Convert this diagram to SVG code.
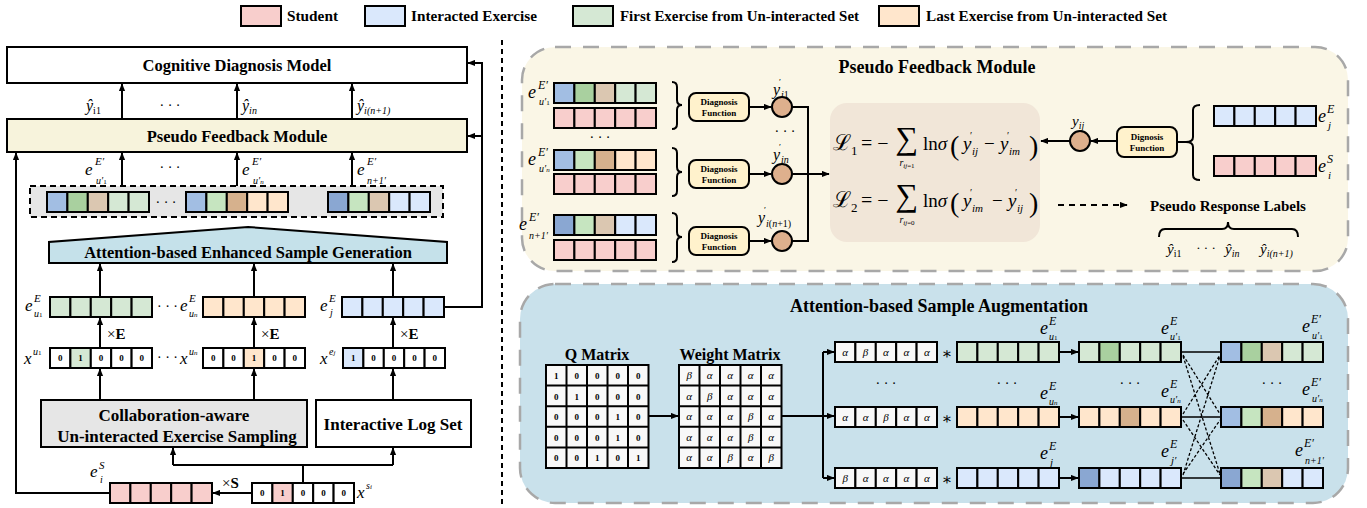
<svg xmlns="http://www.w3.org/2000/svg" width="1367" height="508" viewBox="0 0 1367 508">
<defs>
<marker id="ah" viewBox="0 0 10 8" refX="9" refY="4" markerWidth="8" markerHeight="7" markerUnits="userSpaceOnUse" orient="auto"><path d="M0,0 L10,4 L0,8 z" fill="#000"/></marker>
<style>
.t{font-family:"Liberation Serif","DejaVu Serif",serif;font-weight:bold;fill:#000}
.m{font-family:"Liberation Serif","DejaVu Serif",serif;font-style:italic;fill:#000}
.r{font-family:"Liberation Serif","DejaVu Serif",serif;fill:#000}
.ln{fill:none;stroke:#000;stroke-width:2}
.ar{fill:none;stroke:#000;stroke-width:2;marker-end:url(#ah)}
.cl{stroke:#000;stroke-width:2}
.bx{stroke:#000;stroke-width:2}
.lgn{fill:#d5e8d4}.g{fill:#a9d09f}.tn{fill:#dbc7b1}.tn2{fill:#d6b18d}.bl{fill:#a2bee3}.bl2{fill:#8aa7d2}
.lg2{fill:#c6e5c0}.pk{fill:#f8cecc}.pc{fill:#ffe6cc}.lb{fill:#dae8fc}.wh{fill:#f8f8f8}.w{fill:#fff}
.oh{font-family:"Liberation Serif",serif;font-weight:bold;font-size:9px;text-anchor:middle;fill:#000}
.gr{font-family:"Liberation Serif",serif;font-style:italic;font-size:11px;text-anchor:middle;fill:#000}
.df{font-family:"Liberation Serif",serif;font-weight:bold;font-size:9px;text-anchor:middle;fill:#000}
</style>
</defs>
<rect width="1367" height="508" fill="#fff"/>

<!-- Legend -->
<g id="legend">
<rect x="241" y="6" width="40" height="20" class="bx pk"/>
<text x="287" y="21" class="t" font-size="14" textLength="51" lengthAdjust="spacingAndGlyphs">Student</text>
<rect x="365" y="6" width="40" height="20" class="bx lb"/>
<text x="411" y="21" class="t" font-size="14" textLength="126" lengthAdjust="spacingAndGlyphs">Interacted Exercise</text>
<rect x="573" y="6" width="40" height="20" class="bx lgn"/>
<text x="620" y="21" class="t" font-size="14" textLength="239" lengthAdjust="spacingAndGlyphs">First Exercise from Un-interacted Set</text>
<rect x="879" y="6" width="40" height="20" class="bx pc"/>
<text x="926" y="21" class="t" font-size="14" textLength="241" lengthAdjust="spacingAndGlyphs">Last Exercise from Un-interacted Set</text>
</g>

<!-- separator -->
<line x1="502" y1="40" x2="502" y2="508" stroke="#000" stroke-width="2" stroke-dasharray="5 4"/>

<!-- ================= LEFT PANEL ================= -->
<g id="cdm">
<rect x="7" y="47" width="460" height="36" class="bx w"/>
<text x="237" y="71" class="t" font-size="16.5" text-anchor="middle">Cognitive Diagnosis Model</text>
</g>
<g id="pfm-left">
<rect x="7" y="119" width="460" height="33" fill="#f7f3dc" class="bx"/>
<text x="237" y="142" class="t" font-size="16.5" text-anchor="middle">Pseudo Feedback Module</text>
</g>

<g id="pred-labels">
<text x="86" y="111" class="m" font-size="16">ŷ<tspan font-size="10" dy="3" font-style="normal">i1</tspan></text>
<text x="170" y="110" class="r" font-size="14" text-anchor="middle">· · ·</text>
<text x="242" y="111" class="m" font-size="16">ŷ<tspan font-size="10" dy="3">in</tspan></text>
<text x="357" y="111" class="m" font-size="16">ŷ<tspan font-size="10" dy="3">i(n+1)</tspan></text>
</g>

<g id="aug-labels">
<text x="85" y="175" class="m" font-size="17">e</text><text x="95" y="165" class="m" font-size="11">E′</text><text x="96" y="184" class="m" font-size="10">u′<tspan font-size="7" font-style="normal">1</tspan></text>
<text x="170" y="172" class="r" font-size="14" text-anchor="middle">· · ·</text>
<text x="242" y="175" class="m" font-size="17">e</text><text x="252" y="165" class="m" font-size="11">E′</text><text x="253" y="184" class="m" font-size="10">u′<tspan font-size="7">n</tspan></text>
<text x="357" y="175" class="m" font-size="17">e</text><text x="367" y="165" class="m" font-size="11">E′</text><text x="367" y="184" class="m" font-size="10">n+1′</text>
</g>

<g id="aug-box">
<rect x="30" y="186" width="413" height="31" fill="#e6e6e6" stroke="#000" stroke-width="2" stroke-dasharray="6 4"/>
<g transform="translate(47,192)"><rect class="cl bl" width="20.4" height="20"/><rect class="cl g" x="20.4" width="20.4" height="20"/><rect class="cl tn" x="40.8" width="20.4" height="20"/><rect class="cl lgn" x="61.2" width="20.4" height="20"/><rect class="cl lgn" x="81.6" width="20.4" height="20"/></g>
<text x="166" y="207" class="r" font-size="14" text-anchor="middle">· · ·</text>
<g transform="translate(186,192)"><rect class="cl bl" width="20.4" height="20"/><rect class="cl lg2" x="20.4" width="20.4" height="20"/><rect class="cl tn2" x="40.8" width="20.4" height="20"/><rect class="cl pc" x="61.2" width="20.4" height="20"/><rect class="cl pc" x="81.6" width="20.4" height="20"/></g>
<g transform="translate(328,192)"><rect class="cl bl2" width="20.4" height="20"/><rect class="cl lg2" x="20.4" width="20.4" height="20"/><rect class="cl tn" x="40.8" width="20.4" height="20"/><rect class="cl lb" x="61.2" width="20.4" height="20"/><rect class="cl lb" x="81.6" width="20.4" height="20"/></g>
</g>

<g id="aesg">
<polygon points="49,263 49,242 248,227 447,242 447,263" fill="#c5e1ea" class="bx"/>
<text x="248" y="258" class="t" font-size="16.5" text-anchor="middle">Attention-based Enhanced Sample Generation</text>
</g>

<g id="emb-row">
<text x="25" y="311" class="m" font-size="17">e</text><text x="34" y="302" class="m" font-size="11">E</text><text x="34" y="317" class="m" font-size="10">u<tspan font-size="7" font-style="normal">1</tspan></text>
<g transform="translate(50,297)"><rect class="cl lgn" width="20.4" height="20"/><rect class="cl lgn" x="20.4" width="20.4" height="20"/><rect class="cl lgn" x="40.8" width="20.4" height="20"/><rect class="cl lgn" x="61.2" width="20.4" height="20"/><rect class="cl lgn" x="81.6" width="20.4" height="20"/></g>
<text x="157" y="311" class="r" font-size="14">· · ·</text>
<text x="180" y="311" class="m" font-size="17">e</text><text x="189" y="302" class="m" font-size="11">E</text><text x="189" y="317" class="m" font-size="10">u<tspan font-size="7">n</tspan></text>
<g transform="translate(203,297)"><rect class="cl pc" width="20.4" height="20"/><rect class="cl pc" x="20.4" width="20.4" height="20"/><rect class="cl pc" x="40.8" width="20.4" height="20"/><rect class="cl pc" x="61.2" width="20.4" height="20"/><rect class="cl pc" x="81.6" width="20.4" height="20"/></g>
<text x="320" y="311" class="m" font-size="17">e</text><text x="329" y="302" class="m" font-size="11">E</text><text x="330" y="316" class="m" font-size="10">j</text>
<g transform="translate(342,297)"><rect class="cl lb" width="20.4" height="20"/><rect class="cl lb" x="20.4" width="20.4" height="20"/><rect class="cl lb" x="40.8" width="20.4" height="20"/><rect class="cl lb" x="61.2" width="20.4" height="20"/><rect class="cl lb" x="81.6" width="20.4" height="20"/></g>
</g>

<g id="times-e">
<text x="107" y="339" class="r" font-size="15">×<tspan font-weight="bold">E</tspan></text>
<text x="261" y="339" class="r" font-size="15">×<tspan font-weight="bold">E</tspan></text>
<text x="400" y="339" class="r" font-size="15">×<tspan font-weight="bold">E</tspan></text>
</g>

<g id="onehot-row">
<text x="24" y="364" class="m" font-size="17">x</text><text x="33" y="355" class="m" font-size="10">u<tspan font-size="7" font-style="normal">1</tspan></text>
<g transform="translate(50,348)"><rect class="cl w" width="20.4" height="20"/><rect class="cl lgn" x="20.4" width="20.4" height="20"/><rect class="cl w" x="40.8" width="20.4" height="20"/><rect class="cl w" x="61.2" width="20.4" height="20"/><rect class="cl w" x="81.6" width="20.4" height="20"/></g>
<text x="60.2" y="361" class="oh">0</text><text x="80.6" y="361" class="oh">1</text><text x="101" y="361" class="oh">0</text><text x="121.4" y="361" class="oh">0</text><text x="141.8" y="361" class="oh">0</text>
<text x="157" y="362" class="r" font-size="14">· · ·</text>
<text x="180" y="364" class="m" font-size="17">x</text><text x="189" y="355" class="m" font-size="10">u<tspan font-size="7">n</tspan></text>
<g transform="translate(203,348)"><rect class="cl w" width="20.4" height="20"/><rect class="cl w" x="20.4" width="20.4" height="20"/><rect class="cl pc" x="40.8" width="20.4" height="20"/><rect class="cl w" x="61.2" width="20.4" height="20"/><rect class="cl w" x="81.6" width="20.4" height="20"/></g>
<text x="213.2" y="361" class="oh">0</text><text x="233.6" y="361" class="oh">0</text><text x="254" y="361" class="oh">1</text><text x="274.4" y="361" class="oh">0</text><text x="294.8" y="361" class="oh">0</text>
<text x="320" y="364" class="m" font-size="17">x</text><text x="329" y="355" class="m" font-size="10">e<tspan font-size="7">j</tspan></text>
<g transform="translate(343,348)"><rect class="cl lb" width="20.4" height="20"/><rect class="cl w" x="20.4" width="20.4" height="20"/><rect class="cl w" x="40.8" width="20.4" height="20"/><rect class="cl w" x="61.2" width="20.4" height="20"/><rect class="cl w" x="81.6" width="20.4" height="20"/></g>
<text x="353.2" y="361" class="oh">1</text><text x="373.6" y="361" class="oh">0</text><text x="394" y="361" class="oh">0</text><text x="414.4" y="361" class="oh">0</text><text x="434.8" y="361" class="oh">0</text>
</g>

<g id="collab">
<rect x="41" y="400" width="266" height="47" fill="#e6e6e6" class="bx"/>
<text x="174" y="421" class="t" font-size="17" text-anchor="middle">Collaboration-aware</text>
<text x="177" y="442" class="t" font-size="17" text-anchor="middle">Un-interacted Exercise Sampling</text>
</g>
<g id="logset">
<rect x="316" y="400" width="155" height="47" class="bx w"/>
<text x="393" y="430" class="t" font-size="17" text-anchor="middle">Interactive Log Set</text>
</g>

<g id="student">
<text x="90" y="477" class="m" font-size="17">e</text><text x="99" y="469" class="m" font-size="11">S</text><text x="100" y="483" class="m" font-size="10">i</text>
<g transform="translate(110,483)"><rect class="cl pk" width="20.4" height="20"/><rect class="cl pk" x="20.4" width="20.4" height="20"/><rect class="cl pk" x="40.8" width="20.4" height="20"/><rect class="cl pk" x="61.2" width="20.4" height="20"/><rect class="cl pk" x="81.6" width="20.4" height="20"/></g>
<text x="222" y="488" class="r" font-size="15">×<tspan font-weight="bold">S</tspan></text>
<g transform="translate(252,483)"><rect class="cl w" width="20.4" height="20"/><rect class="cl pk" x="20.4" width="20.4" height="20"/><rect class="cl w" x="40.8" width="20.4" height="20"/><rect class="cl w" x="61.2" width="20.4" height="20"/><rect class="cl w" x="81.6" width="20.4" height="20"/></g>
<text x="262.2" y="496" class="oh">0</text><text x="282.6" y="496" class="oh">1</text><text x="303" y="496" class="oh">0</text><text x="323.4" y="496" class="oh">0</text><text x="343.8" y="496" class="oh">0</text>
<text x="357" y="498" class="m" font-size="17">x</text><text x="366" y="489" class="m" font-size="10">s<tspan font-size="7">i</tspan></text>
</g>

<!-- ================= TOP RIGHT PANEL ================= -->
<g id="pfm-panel">
<rect x="522" y="47" width="826" height="224" rx="33" fill="#faf6e6" stroke="#a8a8a8" stroke-width="2.5" stroke-dasharray="16 12"/>
<text x="937" y="73" class="t" font-size="18" text-anchor="middle">Pseudo Feedback Module</text>
</g>

<g id="pfm-row1">
<text x="528" y="98" class="m" font-size="18">e</text><text x="538" y="89" class="m" font-size="12">E′</text><text x="539" y="105" class="m" font-size="10">u′<tspan font-size="7" font-style="normal">1</tspan></text>
<g transform="translate(554,83)"><rect class="cl bl" width="20.4" height="20"/><rect class="cl g" x="20.4" width="20.4" height="20"/><rect class="cl tn" x="40.8" width="20.4" height="20"/><rect class="cl lgn" x="61.2" width="20.4" height="20"/><rect class="cl lgn" x="81.6" width="20.4" height="20"/></g>
<g transform="translate(554,108)"><rect class="cl pk" width="20.4" height="20"/><rect class="cl pk" x="20.4" width="20.4" height="20"/><rect class="cl pk" x="40.8" width="20.4" height="20"/><rect class="cl pk" x="61.2" width="20.4" height="20"/><rect class="cl pk" x="81.6" width="20.4" height="20"/></g>
<path class="ln" d="M672,82 Q677,82 677,87 V100 Q677,105 682,105 Q677,105 677,110 V124 Q677,129 672,129"/>
<rect x="689" y="93" width="60" height="28" rx="7" fill="#fff2cc" class="bx"/>
<text x="719" y="105" class="df">Diagnosis</text><text x="719" y="116" class="df">Function</text>
<circle cx="782" cy="107" r="10" fill="#deb08d" class="bx"/>
<text x="773" y="95" class="m" font-size="16">y</text><text x="779" y="85" class="r" font-size="9">′</text><text x="781" y="98" class="m" font-size="10">i<tspan font-style="normal">1</tspan></text>
</g>
<text x="600" y="142" class="r" font-size="14" text-anchor="middle">· · ·</text>
<text x="785" y="136" class="r" font-size="14" text-anchor="middle">· · ·</text>

<g id="pfm-row2">
<text x="528" y="165" class="m" font-size="18">e</text><text x="538" y="156" class="m" font-size="12">E′</text><text x="539" y="172" class="m" font-size="10">u′<tspan font-size="7">n</tspan></text>
<g transform="translate(554,150)"><rect class="cl bl" width="20.4" height="20"/><rect class="cl lg2" x="20.4" width="20.4" height="20"/><rect class="cl tn2" x="40.8" width="20.4" height="20"/><rect class="cl pc" x="61.2" width="20.4" height="20"/><rect class="cl pc" x="81.6" width="20.4" height="20"/></g>
<g transform="translate(554,174)"><rect class="cl pk" width="20.4" height="20"/><rect class="cl pk" x="20.4" width="20.4" height="20"/><rect class="cl pk" x="40.8" width="20.4" height="20"/><rect class="cl pk" x="61.2" width="20.4" height="20"/><rect class="cl pk" x="81.6" width="20.4" height="20"/></g>
<path class="ln" d="M672,148 Q677,148 677,153 V167 Q677,172 682,172 Q677,172 677,177 V191 Q677,196 672,196"/>
<rect x="689" y="160" width="60" height="28" rx="7" fill="#fff2cc" class="bx"/>
<text x="719" y="172" class="df">Diagnosis</text><text x="719" y="183" class="df">Function</text>
<circle cx="782" cy="174" r="10" fill="#deb08d" class="bx"/>
<text x="773" y="160" class="m" font-size="16">y</text><text x="779" y="150" class="r" font-size="9">′</text><text x="781" y="163" class="m" font-size="10">in</text>
</g>

<g id="pfm-row3">
<text x="519" y="230" class="m" font-size="18">e</text><text x="529" y="221" class="m" font-size="12">E′</text><text x="529" y="239" class="m" font-size="10">n+1′</text>
<g transform="translate(554,215)"><rect class="cl bl2" width="20.4" height="20"/><rect class="cl lg2" x="20.4" width="20.4" height="20"/><rect class="cl tn" x="40.8" width="20.4" height="20"/><rect class="cl lb" x="61.2" width="20.4" height="20"/><rect class="cl lb" x="81.6" width="20.4" height="20"/></g>
<g transform="translate(554,240)"><rect class="cl pk" width="20.4" height="20"/><rect class="cl pk" x="20.4" width="20.4" height="20"/><rect class="cl pk" x="40.8" width="20.4" height="20"/><rect class="cl pk" x="61.2" width="20.4" height="20"/><rect class="cl pk" x="81.6" width="20.4" height="20"/></g>
<path class="ln" d="M672,213 Q677,213 677,218 V232 Q677,237 682,237 Q677,237 677,242 V257 Q677,262 672,262"/>
<rect x="689" y="227" width="60" height="28" rx="7" fill="#fff2cc" class="bx"/>
<text x="719" y="239" class="df">Diagnosis</text><text x="719" y="250" class="df">Function</text>
<circle cx="782" cy="241" r="10" fill="#deb08d" class="bx"/>
<text x="758" y="223" class="m" font-size="16">y</text><text x="764" y="213" class="r" font-size="9">′</text><text x="766" y="227" class="m" font-size="10">i<tspan font-style="normal">(</tspan>n<tspan font-style="normal">+1)</tspan></text>
</g>

<g id="loss">
<rect x="830" y="103" width="210" height="139" rx="17" fill="#f1e6d8"/>
<text x="833" y="150" class="r" font-size="22">ℒ</text><text x="851" y="155" class="r" font-size="13">1</text>
<text x="861" y="150" class="r" font-size="20">= −</text>
<text x="907" y="149" class="r" font-size="32" text-anchor="middle">∑</text>
<text x="907" y="166" class="m" font-size="10" text-anchor="middle">r<tspan font-size="7" dy="2">ij<tspan font-style="normal">=1</tspan></tspan></text>
<text x="923" y="150" class="r" font-size="19">ln<tspan font-style="italic">σ</tspan></text>
<text x="950" y="155" class="r" font-size="28">(</text>
<text x="963" y="150" class="m" font-size="19">y</text><text x="970" y="139" class="r" font-size="10">′</text><text x="972" y="155" class="m" font-size="11">ij</text>
<text x="984" y="150" class="r" font-size="19">−</text>
<text x="1000" y="150" class="m" font-size="19">y</text><text x="1007" y="139" class="r" font-size="10">′</text><text x="1009" y="155" class="m" font-size="11">im</text>
<text x="1029" y="155" class="r" font-size="28">)</text>

<text x="833" y="207" class="r" font-size="22">ℒ</text><text x="851" y="212" class="r" font-size="13">2</text>
<text x="861" y="207" class="r" font-size="20">= −</text>
<text x="907" y="206" class="r" font-size="32" text-anchor="middle">∑</text>
<text x="907" y="223" class="m" font-size="10" text-anchor="middle">r<tspan font-size="7" dy="2">ij<tspan font-style="normal">=0</tspan></tspan></text>
<text x="923" y="207" class="r" font-size="19">ln<tspan font-style="italic">σ</tspan></text>
<text x="950" y="212" class="r" font-size="28">(</text>
<text x="963" y="207" class="m" font-size="19">y</text><text x="970" y="196" class="r" font-size="10">′</text><text x="972" y="212" class="m" font-size="11">im</text>
<text x="992" y="207" class="r" font-size="19">−</text>
<text x="1008" y="207" class="m" font-size="19">y</text><text x="1015" y="196" class="r" font-size="10">′</text><text x="1017" y="212" class="m" font-size="11">ij</text>
<text x="1029" y="212" class="r" font-size="28">)</text>
</g>

<g id="true-label">
<circle cx="1080" cy="141" r="10" fill="#deb08d" class="bx"/>
<text x="1072" y="126" class="m" font-size="15">y<tspan font-size="10" dy="3">ij</tspan></text>
<rect x="1117" y="127" width="60" height="30" rx="7" fill="#fff2cc" class="bx"/>
<text x="1147" y="140" class="df">Dignosis</text><text x="1147" y="151" class="df">Function</text>
<path class="ln" d="M1200,105 Q1193,105 1193,110 V137 Q1193,142 1186,142 Q1193,142 1193,147 V175 Q1193,180 1200,180"/>
<g transform="translate(1214,106)"><rect class="cl lb" width="20.4" height="20"/><rect class="cl lb" x="20.4" width="20.4" height="20"/><rect class="cl lb" x="40.8" width="20.4" height="20"/><rect class="cl lb" x="61.2" width="20.4" height="20"/><rect class="cl lb" x="81.6" width="20.4" height="20"/></g>
<text x="1318" y="122" class="m" font-size="18">e</text><text x="1327" y="113" class="m" font-size="12">E</text><text x="1328" y="129" class="m" font-size="11">j</text>
<g transform="translate(1214,156)"><rect class="cl pk" width="20.4" height="20"/><rect class="cl pk" x="20.4" width="20.4" height="20"/><rect class="cl pk" x="40.8" width="20.4" height="20"/><rect class="cl pk" x="61.2" width="20.4" height="20"/><rect class="cl pk" x="81.6" width="20.4" height="20"/></g>
<text x="1318" y="172" class="m" font-size="18">e</text><text x="1327" y="163" class="m" font-size="12">S</text><text x="1328" y="179" class="m" font-size="11">i</text>
</g>

<g id="pseudo-labels">
<text x="1228" y="211" class="t" font-size="15" text-anchor="middle">Pseudo Response Labels</text>
<path class="ln" stroke-width="1.8" d="M1159,237 Q1159,229 1165,229 H1222 Q1228,229 1228,222 Q1228,229 1234,229 H1292 Q1298,229 1298,237"/>
<text x="1167" y="254" class="m" font-size="15">ŷ<tspan font-size="10" dy="3" font-style="normal">i1</tspan></text>
<text x="1206" y="252" class="r" font-size="13" text-anchor="middle">· · ·</text>
<text x="1225" y="254" class="m" font-size="15">ŷ<tspan font-size="10" dy="3">in</tspan></text>
<text x="1260" y="254" class="m" font-size="15">ŷ<tspan font-size="10" dy="3">i(n+1)</tspan></text>
</g>

<!-- ================= BOTTOM RIGHT PANEL ================= -->
<g id="asa-panel">
<rect x="520" y="284" width="828" height="219" rx="35" fill="#c9e1eb" stroke="#a8a8a8" stroke-width="2.5" stroke-dasharray="16 12"/>
<text x="939" y="312" class="t" font-size="18" text-anchor="middle">Attention-based Sample Augmentation</text>
</g>

<g id="q-matrix">
<text x="597" y="360" class="t" font-size="16" text-anchor="middle">Q Matrix</text>
<g fill="#f8f8f8" stroke="#000" stroke-width="2">
<rect x="546" y="365" width="102.5" height="103"/>
<path d="M566.5,365 V468 M587,365 V468 M607.5,365 V468 M628,365 V468 M546,385.6 H648.5 M546,406.2 H648.5 M546,426.8 H648.5 M546,447.4 H648.5" fill="none"/>
</g>
<g class="oh">
<text x="556.25" y="379">1</text><text x="576.75" y="379">0</text><text x="597.25" y="379">0</text><text x="617.75" y="379">0</text><text x="638.25" y="379">0</text>
<text x="556.25" y="399.6">0</text><text x="576.75" y="399.6">1</text><text x="597.25" y="399.6">0</text><text x="617.75" y="399.6">0</text><text x="638.25" y="399.6">0</text>
<text x="556.25" y="420.2">0</text><text x="576.75" y="420.2">0</text><text x="597.25" y="420.2">0</text><text x="617.75" y="420.2">1</text><text x="638.25" y="420.2">0</text>
<text x="556.25" y="440.8">0</text><text x="576.75" y="440.8">0</text><text x="597.25" y="440.8">0</text><text x="617.75" y="440.8">1</text><text x="638.25" y="440.8">0</text>
<text x="556.25" y="461.4">0</text><text x="576.75" y="461.4">0</text><text x="597.25" y="461.4">1</text><text x="617.75" y="461.4">0</text><text x="638.25" y="461.4">1</text>
</g>
</g>

<g id="w-matrix">
<text x="730" y="360" class="t" font-size="16" text-anchor="middle">Weight Matrix</text>
<g fill="#f8f8f8" stroke="#000" stroke-width="2">
<rect x="679" y="365" width="102.5" height="103"/>
<path d="M699.5,365 V468 M720,365 V468 M740.5,365 V468 M761,365 V468 M679,385.6 H781.5 M679,406.2 H781.5 M679,426.8 H781.5 M679,447.4 H781.5" fill="none"/>
</g>
<g class="gr">
<text x="689.25" y="379">β</text><text x="709.75" y="379">α</text><text x="730.25" y="379">α</text><text x="750.75" y="379">α</text><text x="771.25" y="379">α</text>
<text x="689.25" y="399.6">α</text><text x="709.75" y="399.6">β</text><text x="730.25" y="399.6">α</text><text x="750.75" y="399.6">α</text><text x="771.25" y="399.6">α</text>
<text x="689.25" y="420.2">α</text><text x="709.75" y="420.2">α</text><text x="730.25" y="420.2">α</text><text x="750.75" y="420.2">β</text><text x="771.25" y="420.2">α</text>
<text x="689.25" y="440.8">α</text><text x="709.75" y="440.8">α</text><text x="730.25" y="440.8">α</text><text x="750.75" y="440.8">β</text><text x="771.25" y="440.8">α</text>
<text x="689.25" y="461.4">α</text><text x="709.75" y="461.4">α</text><text x="730.25" y="461.4">β</text><text x="750.75" y="461.4">α</text><text x="771.25" y="461.4">β</text>
</g>
</g>

<g id="weights">
<g transform="translate(835,342)"><rect class="cl wh" width="20.4" height="20"/><rect class="cl wh" x="20.4" width="20.4" height="20"/><rect class="cl wh" x="40.8" width="20.4" height="20"/><rect class="cl wh" x="61.2" width="20.4" height="20"/><rect class="cl wh" x="81.6" width="20.4" height="20"/></g>
<g transform="translate(835,407)"><rect class="cl wh" width="20.4" height="20"/><rect class="cl wh" x="20.4" width="20.4" height="20"/><rect class="cl wh" x="40.8" width="20.4" height="20"/><rect class="cl wh" x="61.2" width="20.4" height="20"/><rect class="cl wh" x="81.6" width="20.4" height="20"/></g>
<g transform="translate(835,468)"><rect class="cl wh" width="20.4" height="20"/><rect class="cl wh" x="20.4" width="20.4" height="20"/><rect class="cl wh" x="40.8" width="20.4" height="20"/><rect class="cl wh" x="61.2" width="20.4" height="20"/><rect class="cl wh" x="81.6" width="20.4" height="20"/></g>
<g class="gr">
<text x="845.2" y="356">α</text><text x="865.6" y="356">β</text><text x="886" y="356">α</text><text x="906.4" y="356">α</text><text x="926.8" y="356">α</text>
<text x="845.2" y="421">α</text><text x="865.6" y="421">α</text><text x="886" y="421">β</text><text x="906.4" y="421">α</text><text x="926.8" y="421">α</text>
<text x="845.2" y="482">β</text><text x="865.6" y="482">α</text><text x="886" y="482">α</text><text x="906.4" y="482">α</text><text x="926.8" y="482">α</text>
</g>
<text x="886" y="388" class="r" font-size="14" text-anchor="middle">· · ·</text>
<text x="947" y="359" class="r" font-size="16" text-anchor="middle">∗</text>
<text x="947" y="424" class="r" font-size="16" text-anchor="middle">∗</text>
<text x="947" y="485" class="r" font-size="16" text-anchor="middle">∗</text>
</g>

<g id="emb-vectors">
<g transform="translate(957,342)"><rect class="cl lgn" width="20.4" height="20"/><rect class="cl lgn" x="20.4" width="20.4" height="20"/><rect class="cl lgn" x="40.8" width="20.4" height="20"/><rect class="cl lgn" x="61.2" width="20.4" height="20"/><rect class="cl lgn" x="81.6" width="20.4" height="20"/></g>
<g transform="translate(957,407)"><rect class="cl pc" width="20.4" height="20"/><rect class="cl pc" x="20.4" width="20.4" height="20"/><rect class="cl pc" x="40.8" width="20.4" height="20"/><rect class="cl pc" x="61.2" width="20.4" height="20"/><rect class="cl pc" x="81.6" width="20.4" height="20"/></g>
<g transform="translate(957,468)"><rect class="cl lb" width="20.4" height="20"/><rect class="cl lb" x="20.4" width="20.4" height="20"/><rect class="cl lb" x="40.8" width="20.4" height="20"/><rect class="cl lb" x="61.2" width="20.4" height="20"/><rect class="cl lb" x="81.6" width="20.4" height="20"/></g>
<text x="1007" y="388" class="r" font-size="14" text-anchor="middle">· · ·</text>
<text x="1040" y="334" class="m" font-size="18">e</text><text x="1049" y="325" class="m" font-size="12">E</text><text x="1049" y="340" class="m" font-size="10">u<tspan font-size="7" font-style="normal">1</tspan></text>
<text x="1040" y="399" class="m" font-size="18">e</text><text x="1049" y="390" class="m" font-size="12">E</text><text x="1049" y="405" class="m" font-size="10">u<tspan font-size="7">n</tspan></text>
<text x="1040" y="459" class="m" font-size="18">e</text><text x="1049" y="450" class="m" font-size="12">E</text><text x="1050" y="466" class="m" font-size="11">j</text>
</g>

<g id="weighted-vectors">
<g transform="translate(1079,342)"><rect class="cl lgn" width="20.4" height="20"/><rect class="cl g" x="20.4" width="20.4" height="20"/><rect class="cl lgn" x="40.8" width="20.4" height="20"/><rect class="cl lgn" x="61.2" width="20.4" height="20"/><rect class="cl lgn" x="81.6" width="20.4" height="20"/></g>
<g transform="translate(1079,407)"><rect class="cl pc" width="20.4" height="20"/><rect class="cl pc" x="20.4" width="20.4" height="20"/><rect class="cl tn2" x="40.8" width="20.4" height="20"/><rect class="cl pc" x="61.2" width="20.4" height="20"/><rect class="cl pc" x="81.6" width="20.4" height="20"/></g>
<g transform="translate(1079,468)"><rect class="cl bl2" width="20.4" height="20"/><rect class="cl lb" x="20.4" width="20.4" height="20"/><rect class="cl lb" x="40.8" width="20.4" height="20"/><rect class="cl lb" x="61.2" width="20.4" height="20"/><rect class="cl lb" x="81.6" width="20.4" height="20"/></g>
<text x="1130" y="388" class="r" font-size="14" text-anchor="middle">· · ·</text>
<text x="1161" y="334" class="m" font-size="18">e</text><text x="1170" y="325" class="m" font-size="12">E</text><text x="1170" y="340" class="m" font-size="10">u′<tspan font-size="7" font-style="normal">1</tspan></text>
<text x="1161" y="397" class="m" font-size="18">e</text><text x="1170" y="388" class="m" font-size="12">E</text><text x="1170" y="403" class="m" font-size="10">u′<tspan font-size="7">n</tspan></text>
<text x="1161" y="457" class="m" font-size="18">e</text><text x="1170" y="448" class="m" font-size="12">E</text><text x="1171" y="464" class="m" font-size="11">j′</text>
</g>

<g id="final-vectors">
<g transform="translate(1221,342)"><rect class="cl bl" width="20.4" height="20"/><rect class="cl g" x="20.4" width="20.4" height="20"/><rect class="cl tn" x="40.8" width="20.4" height="20"/><rect class="cl lgn" x="61.2" width="20.4" height="20"/><rect class="cl lgn" x="81.6" width="20.4" height="20"/></g>
<g transform="translate(1221,407)"><rect class="cl bl" width="20.4" height="20"/><rect class="cl lg2" x="20.4" width="20.4" height="20"/><rect class="cl tn2" x="40.8" width="20.4" height="20"/><rect class="cl pc" x="61.2" width="20.4" height="20"/><rect class="cl pc" x="81.6" width="20.4" height="20"/></g>
<g transform="translate(1221,468)"><rect class="cl bl2" width="20.4" height="20"/><rect class="cl lg2" x="20.4" width="20.4" height="20"/><rect class="cl tn" x="40.8" width="20.4" height="20"/><rect class="cl lb" x="61.2" width="20.4" height="20"/><rect class="cl lb" x="81.6" width="20.4" height="20"/></g>
<text x="1272" y="388" class="r" font-size="14" text-anchor="middle">· · ·</text>
<text x="1302" y="332" class="m" font-size="18">e</text><text x="1311" y="323" class="m" font-size="12">E′</text><text x="1312" y="339" class="m" font-size="10">u′<tspan font-size="7" font-style="normal">1</tspan></text>
<text x="1302" y="395" class="m" font-size="18">e</text><text x="1311" y="386" class="m" font-size="12">E′</text><text x="1312" y="402" class="m" font-size="10">u′<tspan font-size="7">n</tspan></text>
<text x="1295" y="456" class="m" font-size="18">e</text><text x="1304" y="447" class="m" font-size="12">E′</text><text x="1305" y="464" class="m" font-size="10">n+1′</text>
</g>

<!-- ================= CONNECTORS ================= -->
<g id="connectors">
<path class="ar" d="M122,119 V84"/>
<path class="ar" d="M237,119 V84"/>
<path class="ar" d="M352,119 V84"/>
<path class="ar" d="M122,186 V153"/>
<path class="ar" d="M237,186 V153"/>
<path class="ar" d="M352,186 V153"/>
<path class="ar" d="M443,307 H482 V63 H468"/>
<path class="ar" d="M482,136 H468"/>
<path class="ar" d="M110,493 H16 V153"/>
<path class="ar" d="M100,297 V264"/>
<path class="ar" d="M254,297 V264"/>
<path class="ar" d="M393,297 V264"/>
<path class="ar" d="M100,348 V318"/>
<path class="ar" d="M254,348 V318"/>
<path class="ar" d="M393,348 V318"/>
<path class="ar" d="M100,400 V369"/>
<path class="ar" d="M254,400 V369"/>
<path class="ar" d="M393,400 V369"/>
<path class="ln" d="M303,483 V465 M173,465 H393"/>
<path class="ar" d="M173,465 V448"/>
<path class="ar" d="M393,465 V448"/>
<path class="ar" d="M252,493 H213"/>
<path class="ar" d="M749,107 H771"/>
<path class="ar" d="M749,174 H771"/>
<path class="ar" d="M749,241 H771"/>
<path class="ln" d="M792,107 H808 V241 H792 M792,174 H808"/>
<path class="ar" d="M808,174 H829"/>
<path class="ar" d="M1070,141 H1041"/>
<path class="ar" d="M1117,141 H1091"/>
<path class="ln" d="M1177,142 H1186"/>
<path class="ar" d="M1058,205 H1127" stroke-dasharray="6 5"/>
<path class="ar" d="M648.5,416 H678"/>
<path class="ar" d="M781.5,416 H834"/>
<path class="ln" d="M823,352 V478"/>
<path class="ar" d="M823,352 H834"/>
<path class="ar" d="M823,478 H834"/>
<path class="ar" d="M1059,352 H1078"/>
<path class="ar" d="M1059,417 H1078"/>
<path class="ar" d="M1059,478 H1078"/>
<g stroke="#000" stroke-width="1.3" fill="none">
<path d="M1181,352 H1221 M1181,417 H1221 M1181,478 H1221"/>
<path stroke-dasharray="3 2" d="M1183,355 L1220,414 M1183,356 L1220,474 M1183,414 L1220,355 M1183,420 L1220,475 M1183,475 L1220,356 M1183,474 L1220,420"/>
</g>
</g>
</svg>
